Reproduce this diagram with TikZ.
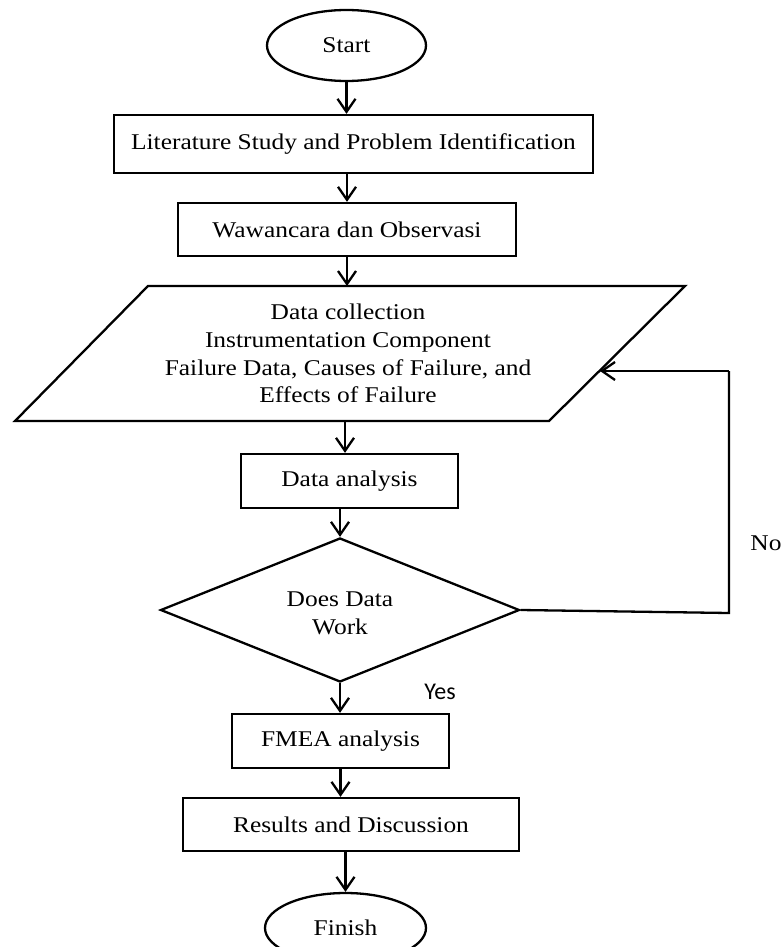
\documentclass[tikz,border=0pt]{standalone}
\usepackage{fontspec}
\setmainfont{Liberation Serif}[FakeStretch=1.13]
\newfontfamily\yesfont{Carlito}
\usetikzlibrary{shapes.geometric,arrows.meta}
\begin{document}
\begin{tikzpicture}[x=1pt,y=-1pt,
  txt/.style={font=\fontsize{22.5}{27.7}\selectfont, align=center, inner sep=0pt},
  procbox/.style={txt, draw, rectangle, line width=2.3pt},
  term/.style={txt, draw, ellipse, line width=2.3pt},
  arr/.style={line width=2.3pt, -{Straight Barb[length=13pt,width=18pt,line width=2.3pt]}},
  ln/.style={line width=2.3pt}
  ]
\useasboundingbox (0,0) rectangle (781,947);
\clip (0,0) rectangle (781,947);
\fill[white] (0,0) rectangle (781,947);

\node[term, minimum width=159, minimum height=71] (start) at (346.5,45.5) {Start};
\node[procbox, minimum width=479, minimum height=58] (lit) at (353.5,144) {Literature Study and Problem Identification};
\node[procbox, minimum width=338, minimum height=53] (waw) at (347,229.5) {Wawancara dan Observasi};

\draw[ln, line join=miter] (148,286) coordinate (ptl) -- (685,286) coordinate (ptr) -- (549,421) coordinate (pbr) -- (15,421) coordinate (pbl) -- cycle;
\node[txt] (para) at (348,353.5) {Data collection\\Instrumentation Component\\Failure Data, Causes of Failure, and\\Effects of Failure};
\coordinate (pin) at (600,371);

\node[procbox, minimum width=217, minimum height=54] (ana) at (349.5,481) {Data analysis};
\node[txt, draw, diamond, aspect=2.5, line width=2.3pt, minimum width=359, minimum height=144] (dia) at (340,610) {};
\node[txt] (diatext) at (340,613) {Does Data\\Work};
\node[procbox, minimum width=217, minimum height=54] (fmea) at (340.5,741) {FMEA analysis};
\node[procbox, minimum width=336, minimum height=53] (res) at (351,824.5) {Results and Discussion};
\node[term, minimum width=161, minimum height=70] (fin) at (345.5,928) {Finish};

\node[font=\yesfont\fontsize{24}{24}\selectfont, inner sep=0pt] (yes) at (440,692) {Yes};
\node[txt] (no) at (766,543) {No};

\coordinate (c1) at (729,613);
\coordinate (c2) at (729,371);

\draw[arr] (start.south) -- (start.south |- lit.north);
\draw[arr] (waw.north |- lit.south) -- (waw.north);
\draw[arr] (waw.south) -- (waw.south |- ptl);
\draw[arr] (345,421) -- (345,421 |- ana.north);
\draw[arr] (dia.north |- ana.south) -- (dia.north);
\draw[arr] (dia.south) -- (dia.south |- fmea.north);
\draw[arr] (fmea.south) -- (fmea.south |- res.north);
\draw[arr] (fin.north |- res.south) -- (fin.north);
\draw[ln] (dia.east) -- (c1) -- (c2);
\draw[arr] (c2) -- (pin);
\end{tikzpicture}
\end{document}
